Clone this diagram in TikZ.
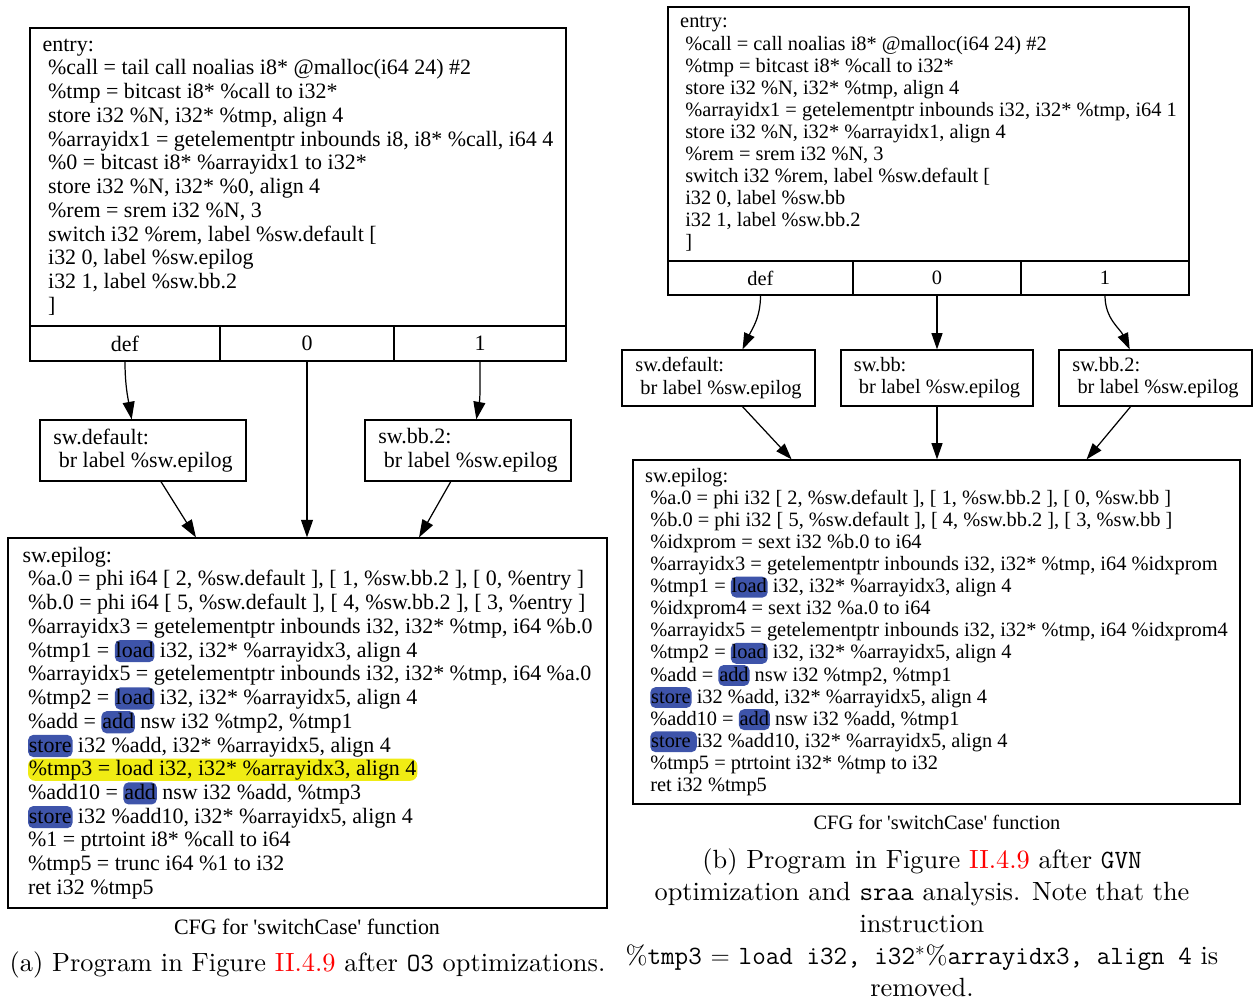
\documentclass[tikz,border=0pt]{standalone}
\usepackage{fontspec}
\usetikzlibrary{arrows.meta}

\setmainfont{lmroman10-regular.otf}
\newfontfamily\gvfont{Liberation Serif}
\newlength{\px}
\setlength{\px}{0.02cm}

\definecolor{hlblue}{RGB}{62,84,170}
\definecolor{hlyellow}{RGB}{240,236,20}

\newcommand{\gvA}{\gvfont\fontsize{12.5}{13.5}\selectfont}
\newcommand{\gvB}{\gvfont\fontsize{11.6}{12.57}\selectfont}
\newcommand{\capfont}{\fontsize{15}{18.1}\selectfont}

\tikzset{
  cfgbox/.style 2 args={draw, line width=0.7pt, align=left, inner sep=0pt,
    minimum width=#1*\px, minimum height=#2*\px},
  hlword/.style={shape=rectangle, draw=none, fill=hlblue, rounded corners=3pt,
    inner xsep=0.5pt, inner ysep=1pt, minimum width=0pt, minimum height=0pt,
    text height=0.7em, text depth=0.15em},
  hlrow/.style={hlword, fill=hlyellow, rounded corners=4pt},
  flowA/.style={-{Triangle[length=10pt,width=6.8pt]}, line width=0.7pt},
  flowB/.style={-{Triangle[length=9.3pt,width=6.3pt]}, line width=0.7pt},
}

% highlighted opcode and highlighted row
\newcommand{\hlw}[1]{\tikz[baseline=(hl.base)]\node[hlword] (hl) {#1};}
\newcommand{\hlr}[1]{\tikz[baseline=(hl.base)]\node[hlrow] (hl) {#1};}

\begin{document}
\begin{tikzpicture}[x=0.02cm, y=-0.02cm]
\useasboundingbox (0,0) rectangle (1258,1001);

% (a) CFG after O3
\node[cfgbox={536}{298}, font=\gvA] (entryA) at (298,177) {entry:\\
\ \%call = tail call noalias i8* @malloc(i64 24) \#2\\
\ \%tmp = bitcast i8* \%call to i32*\\
\ store i32 \%N, i32* \%tmp, align 4\\
\ \%arrayidx1 = getelementptr inbounds i8, i8* \%call, i64 4\\
\ \%0 = bitcast i8* \%arrayidx1 to i32*\\
\ store i32 \%N, i32* \%0, align 4\\
\ \%rem = srem i32 \%N, 3\\
\ switch i32 \%rem, label \%sw.default [\\
\ i32 0, label \%sw.epilog\\
\ i32 1, label \%sw.bb.2\\
\ ]};
\node[cfgbox={190}{35}, font=\gvA] (defA) at (125,343.5) {def};
\node[cfgbox={174}{35}, font=\gvA] (zeroA) at (307,343.5) {0};
\node[cfgbox={172}{35}, font=\gvA] (oneA) at (480,343.5) {1};

\node[cfgbox={206}{61}, font=\gvA] (swdefA) at (143,450.5) {sw.default:\\
\ br label \%sw.epilog};
\node[cfgbox={206}{61}, font=\gvA] (swbbtwoA) at (468,450.5) {sw.bb.2:\\
\ br label \%sw.epilog};

\node[cfgbox={599}{370}, font=\gvA] (epilogA) at (307.5,723) {sw.epilog:\\
\ \%a.0 = phi i64 [ 2, \%sw.default ], [ 1, \%sw.bb.2 ], [ 0, \%entry ]\\
\ \%b.0 = phi i64 [ 5, \%sw.default ], [ 4, \%sw.bb.2 ], [ 3, \%entry ]\\
\ \%arrayidx3 = getelementptr inbounds i32, i32* \%tmp, i64 \%b.0\\
\ \%tmp1 = \hlw{load} i32, i32* \%arrayidx3, align 4\\
\ \%arrayidx5 = getelementptr inbounds i32, i32* \%tmp, i64 \%a.0\\
\ \%tmp2 = \hlw{load} i32, i32* \%arrayidx5, align 4\\
\ \%add = \hlw{add} nsw i32 \%tmp2, \%tmp1\\
\ \hlw{store} i32 \%add, i32* \%arrayidx5, align 4\\
\ \hlr{\%tmp3 = load i32, i32* \%arrayidx3, align 4}\\
\ \%add10 = \hlw{add} nsw i32 \%add, \%tmp3\\
\ \hlw{store} i32 \%add10, i32* \%arrayidx5, align 4\\
\ \%1 = ptrtoint i8* \%call to i64\\
\ \%tmp5 = trunc i64 \%1 to i32\\
\ ret i32 \%tmp5};

\draw[flowA] (defA.south) to[out=-90, in=100] (swdefA.110);
\draw[flowA] (zeroA.south) -- (zeroA.south |- epilogA.north);
\draw[flowA] (oneA.south) to[out=-90, in=80] (swbbtwoA.75);
\draw[flowA] (swdefA.-60) -- (epilogA.121);
\draw[flowA] (swbbtwoA.-119) -- (epilogA.59);

\node[font=\gvA] (cfgA) at (307,927) {CFG for \textquotesingle switchCase\textquotesingle\ function};
\node[font=\capfont, anchor=base] (subA) at (307.5,971)
  {(a) Program in Figure \textcolor{red}{II.4.9} after \texttt{O3} optimizations.};

% (b) CFG after GVN and sraa
\node[cfgbox={521}{254}, font=\gvB] (entryB) at (928.5,134) {entry:\\
\ \%call = call noalias i8* @malloc(i64 24) \#2\\
\ \%tmp = bitcast i8* \%call to i32*\\
\ store i32 \%N, i32* \%tmp, align 4\\
\ \%arrayidx1 = getelementptr inbounds i32, i32* \%tmp, i64 1\\
\ store i32 \%N, i32* \%arrayidx1, align 4\\
\ \%rem = srem i32 \%N, 3\\
\ switch i32 \%rem, label \%sw.default [\\
\ i32 0, label \%sw.bb\\
\ i32 1, label \%sw.bb.2\\
\ ]};
\node[cfgbox={185}{34}, font=\gvB] (defB) at (760.5,278) {def};
\node[cfgbox={168}{34}, font=\gvB] (zeroB) at (937,278) {0};
\node[cfgbox={168}{34}, font=\gvB] (oneB) at (1105,278) {1};

\node[cfgbox={193}{56}, font=\gvB] (swdefB) at (718.5,378) {sw.default:\\
\ br label \%sw.epilog};
\node[cfgbox={192}{56}, font=\gvB] (swbbB) at (937,378) {sw.bb:\\
\ br label \%sw.epilog};
\node[cfgbox={193}{56}, font=\gvB] (swbbtwoB) at (1155.5,378) {sw.bb.2:\\
\ br label \%sw.epilog};

\node[cfgbox={607}{344}, font=\gvB] (epilogB) at (936.5,632) {sw.epilog:\\
\ \%a.0 = phi i32 [ 2, \%sw.default ], [ 1, \%sw.bb.2 ], [ 0, \%sw.bb ]\\
\ \%b.0 = phi i32 [ 5, \%sw.default ], [ 4, \%sw.bb.2 ], [ 3, \%sw.bb ]\\
\ \%idxprom = sext i32 \%b.0 to i64\\
\ \%arrayidx3 = getelementptr inbounds i32, i32* \%tmp, i64 \%idxprom\\
\ \%tmp1 = \hlw{load} i32, i32* \%arrayidx3, align 4\\
\ \%idxprom4 = sext i32 \%a.0 to i64\\
\ \%arrayidx5 = getelementptr inbounds i32, i32* \%tmp, i64 \%idxprom4\\
\ \%tmp2 = \hlw{load} i32, i32* \%arrayidx5, align 4\\
\ \%add = \hlw{add} nsw i32 \%tmp2, \%tmp1\\
\ \hlw{store} i32 \%add, i32* \%arrayidx5, align 4\\
\ \%add10 = \hlw{add} nsw i32 \%add, \%tmp1\\
\ \hlw{store\ }i32 \%add10, i32* \%arrayidx5, align 4\\
\ \%tmp5 = ptrtoint i32* \%tmp to i32\\
\ ret i32 \%tmp5};

\draw[flowB] (defB.south) to[out=-90, in=65] (swdefB.50);
\draw[flowB] (zeroB.south) -- (swbbB.north);
\draw[flowB] (oneB.south) to[out=-90, in=115] (swbbtwoB.132);
\draw[flowB] (swdefB.-50) -- (epilogB.130);
\draw[flowB] (swbbB.south) -- (swbbB.south |- epilogB.north);
\draw[flowB] (swbbtwoB.-131) -- (epilogB.49);

\node[font=\gvB] (cfgB) at (937,822) {CFG for \textquotesingle switchCase\textquotesingle\ function};
\node[font=\capfont, align=center, anchor=north] (subB) at (922,843)
  {(b) Program in Figure \textcolor{red}{II.4.9} after \texttt{GVN}\\
   optimization and \texttt{sraa} analysis. Note that the\\
   instruction\\
   \%\texttt{tmp3} $=$ \texttt{load i32, i32}$^*$\%\texttt{arrayidx3, align 4} is\\
   removed.};
\end{tikzpicture}
\end{document}
